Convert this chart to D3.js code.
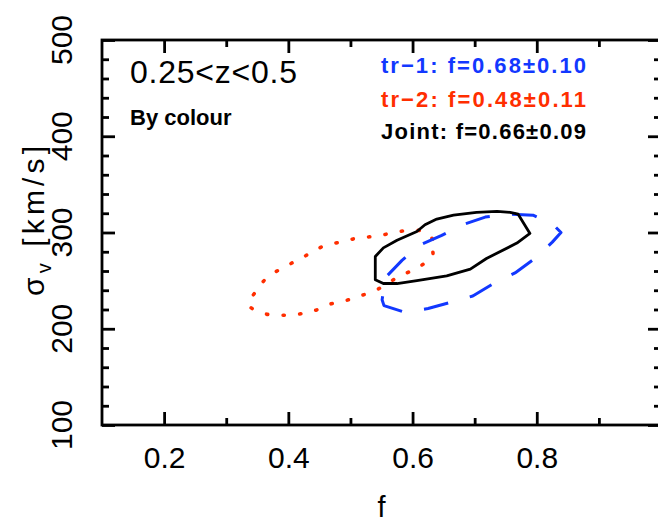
<!DOCTYPE html>
<html>
<head>
<meta charset="utf-8">
<script src="https://cdn.jsdelivr.net/npm/d3@7"></script>
<style>
  html, body { margin: 0; padding: 0; background: #fff; }
  svg { display: block; }
  text { font-family: "Liberation Sans", Arial, Helvetica, sans-serif; fill: #000; }
</style>
</head>
<body>
<svg id="chart" width="658" height="525"></svg>
<script>
// ---- axis ticks ----
const xMajor = [0.2, 0.4, 0.6, 0.8];
const xMinor = [0.3, 0.5, 0.7, 0.9];
const xTickLabels = ["0.2", "0.4", "0.6", "0.8"];
const yMajor = [100, 200, 300, 400, 500];
const yMinor = [120, 140, 160, 180, 220, 240, 260, 280, 320, 340, 360, 380, 420, 440, 460, 480];
const yTickLabels = ["100", "200", "300", "400", "500"];

// ---- confidence contours (f, sigma_v) ----
// tr-1 (blue, dashed)
const fTr1 = [0.551, 0.554, 0.588, 0.625, 0.664, 0.697, 0.733, 0.765, 0.797, 0.825, 0.839, 0.825, 0.794, 0.754, 0.717, 0.680, 0.647, 0.612, 0.583, 0.556];
const sTr1 = [230, 224, 217, 221, 228, 234, 248, 258, 273, 290, 300, 309, 318, 319, 316, 308, 297, 287, 271, 253];
// tr-2 (red, dotted)
const fTr2 = [0.632, 0.632, 0.618, 0.591, 0.564, 0.537, 0.510, 0.483, 0.457, 0.434, 0.411, 0.387, 0.364, 0.348, 0.336, 0.360, 0.387, 0.414, 0.439, 0.464, 0.491, 0.515, 0.541, 0.564, 0.588, 0.612, 0.632];
const sTr2 = [284, 293, 301, 302, 299, 296, 294, 290, 286, 278, 270, 262, 252, 239, 225, 216, 214, 215, 218, 225, 229, 234, 240, 249, 257, 265, 275];
// joint (black, solid)
const fJoint = [0.540, 0.540, 0.553, 0.575, 0.607, 0.655, 0.693, 0.719, 0.768, 0.789, 0.770, 0.757, 0.736, 0.703, 0.666, 0.639, 0.620, 0.607, 0.575, 0.553];
const sJoint = [275, 251, 247, 247, 250, 255, 262, 273, 289, 299, 319, 321, 322, 321, 318, 314, 308, 301, 292, 284];

// ---- text ----
const panelTitle = "0.25<z<0.5";
const panelSubtitle = "By colour";
const legendLabels = ["tr\u22121: f=0.68\u00b10.10", "tr\u22122: f=0.48\u00b10.11", "Joint: f=0.66\u00b10.09"];
const legendColors = ["#1238ff", "#ff2e00", "#000000"];

const svg = d3.select("#chart");
const x = d3.scaleLinear().domain([0.1, 1.0]).range([102, 661]);
const y = d3.scaleLinear().domain([100, 500]).range([425, 40]);

const AX = 2.8;
const majorLen = 13, minorLen = 7;

// ticks: bottom / top
function styleAxis(g) {
  g.select(".domain").remove();
  g.selectAll(".tick line").attr("stroke", "#000").attr("stroke-width", AX);
}
svg.append("g").attr("transform", `translate(0,${y(100)})`)
  .call(d3.axisBottom(x).tickValues(xMajor).tickSizeInner(-majorLen).tickSizeOuter(0)
    .tickPadding(21.5).tickFormat((d, i) => xTickLabels[i]))
  .call(styleAxis)
  .call(g => g.selectAll("text").attr("font-size", 30).attr("font-family", null).attr("fill", "#000"));
svg.append("g").attr("transform", `translate(0,${y(100)})`)
  .call(d3.axisBottom(x).tickValues(xMinor).tickSizeInner(-minorLen).tickSizeOuter(0).tickFormat(""))
  .call(styleAxis);
svg.append("g").attr("transform", `translate(0,${y(500)})`)
  .call(d3.axisTop(x).tickValues(xMajor).tickSizeInner(-majorLen).tickSizeOuter(0).tickFormat(""))
  .call(styleAxis);
svg.append("g").attr("transform", `translate(0,${y(500)})`)
  .call(d3.axisTop(x).tickValues(xMinor).tickSizeInner(-minorLen).tickSizeOuter(0).tickFormat(""))
  .call(styleAxis);

// ticks: left / right
svg.append("g").attr("transform", `translate(${x(0.1)},0)`)
  .call(d3.axisLeft(y).tickValues(yMajor).tickSizeInner(-majorLen).tickSizeOuter(0).tickFormat(""))
  .call(styleAxis);
svg.append("g").attr("transform", `translate(${x(0.1)},0)`)
  .call(d3.axisLeft(y).tickValues(yMinor).tickSizeInner(-minorLen).tickSizeOuter(0).tickFormat(""))
  .call(styleAxis);
svg.append("g").attr("transform", `translate(${x(1.0)},0)`)
  .call(d3.axisRight(y).tickValues(yMajor).tickSizeInner(-majorLen).tickSizeOuter(0).tickFormat(""))
  .call(styleAxis);
svg.append("g").attr("transform", `translate(${x(1.0)},0)`)
  .call(d3.axisRight(y).tickValues(yMinor).tickSizeInner(-minorLen).tickSizeOuter(0).tickFormat(""))
  .call(styleAxis);

// y tick labels, rotated to read upward
svg.append("g").selectAll("text").data(yMajor).join("text")
  .attr("transform", d => `translate(72,${y(d)}) rotate(-90)`)
  .attr("text-anchor", "middle")
  .attr("font-size", 30)
  .text((d, i) => yTickLabels[i]);

// frame
svg.append("rect")
  .attr("x", x(0.1)).attr("y", y(500))
  .attr("width", x(1.0) - x(0.1)).attr("height", y(100) - y(500))
  .attr("fill", "none").attr("stroke", "#000").attr("stroke-width", AX);

// axis titles
svg.append("text")
  .attr("x", (x(0.1) + x(1.0)) / 2).attr("y", 517)
  .attr("text-anchor", "middle").attr("font-size", 29)
  .text("f");

const yTitle = svg.append("text")
  .attr("transform", "translate(44,221) rotate(-90)")
  .attr("text-anchor", "middle").attr("font-size", 30)
  .attr("textLength", 150).attr("lengthAdjust", "spacing");
yTitle.append("tspan").text("\u03c3");
yTitle.append("tspan").attr("font-size", 20).attr("dy", 7).text("v");
yTitle.append("tspan").attr("dy", -7).text(" [km/s]");

// contours
const pts = (fs, ss) => fs.map((f, i) => [x(f), y(ss[i])]);
const closed = d3.line().curve(d3.curveLinearClosed);
const smooth = d3.line().curve(d3.curveCatmullRomClosed.alpha(0.5));

svg.append("path")
  .attr("d", smooth(pts(fTr2, sTr2)))
  .attr("fill", "none").attr("stroke", legendColors[1])
  .attr("stroke-width", 3.6).attr("stroke-linecap", "round")
  .attr("stroke-dasharray", "1.2,15.4");

svg.append("path")
  .attr("d", closed(pts(fTr1, sTr1)))
  .attr("fill", "none").attr("stroke", legendColors[0])
  .attr("stroke-width", 3).attr("stroke-linejoin", "round")
  .attr("stroke-dasharray", "25,22.4");

svg.append("path")
  .attr("d", closed(pts(fJoint, sJoint)))
  .attr("fill", "none").attr("stroke", legendColors[2])
  .attr("stroke-width", 2.8).attr("stroke-linejoin", "round");

// panel labels
svg.append("text").attr("x", 130).attr("y", 83)
  .attr("font-size", 32).attr("textLength", 167).attr("lengthAdjust", "spacing")
  .text(panelTitle);
svg.append("text").attr("x", 130).attr("y", 125)
  .attr("font-size", 22).attr("font-weight", "bold")
  .text(panelSubtitle);

// legend
const legendY = [73.4, 107.2, 139.2];
svg.append("g").selectAll("text").data(legendLabels).join("text")
  .attr("x", 381).attr("y", (d, i) => legendY[i])
  .attr("font-size", 22).attr("font-weight", "bold")
  .attr("textLength", 205).attr("lengthAdjust", "spacing")
  .style("fill", (d, i) => legendColors[i])
  .text(d => d);
</script>
</body>
</html>
